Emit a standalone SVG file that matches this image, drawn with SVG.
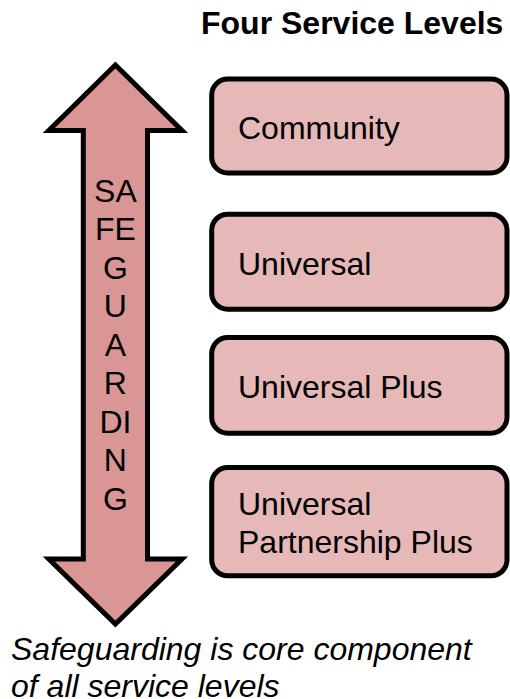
<svg xmlns="http://www.w3.org/2000/svg" width="510" height="699" viewBox="0 0 510 699">
<style>
text{font-family:"Liberation Sans",Arial,sans-serif;font-size:32px;fill:#000}
.box{fill:#E6B8B7;stroke:#000;stroke-width:5}
.arrow{fill:#D99694;stroke:#000;stroke-width:5;stroke-linejoin:miter}
</style>
<rect width="510" height="699" fill="#fff"/>
<g id="title"><text x="201" y="34" font-weight="bold">Four Service Levels</text></g>
<g id="safeguarding-arrow">
<path class="arrow" d="M115.4,65 L182,130.5 L147.5,130.5 L147.5,559 L182,559 L115.4,624 L48.8,559 L83.3,559 L83.3,130.5 L48.8,130.5 Z"/>
<text text-anchor="middle"><tspan x="115.4" y="201.5">SA</tspan><tspan x="115.4" y="240">FE</tspan><tspan x="115.4" y="278.5">G</tspan><tspan x="115.4" y="317">U</tspan><tspan x="115.4" y="355.5">A</tspan><tspan x="115.4" y="394">R</tspan><tspan x="115.4" y="432.5">DI</tspan><tspan x="115.4" y="471">N</tspan><tspan x="115.4" y="509.5">G</tspan></text>
</g>
<g id="community"><rect class="box" x="211.7" y="79" width="295.3" height="94" rx="16"/><text x="238" y="139">Community</text></g>
<g id="universal"><rect class="box" x="211.7" y="214.2" width="295.3" height="95" rx="16"/><text x="238" y="275">Universal</text></g>
<g id="universal-plus"><rect class="box" x="211.7" y="337.5" width="295.3" height="95.7" rx="16"/><text x="238" y="398">Universal Plus</text></g>
<g id="universal-partnership-plus"><rect class="box" x="211.7" y="467.5" width="295.3" height="108.3" rx="16"/><text x="238" y="515">Universal</text><text x="238" y="553.4">Partnership Plus</text></g>
<g id="caption"><text x="11" y="660" font-style="italic">Safeguarding is core component</text><text x="11" y="697" font-style="italic">of all service levels</text></g>
<g id="connectors"/>
</svg>
